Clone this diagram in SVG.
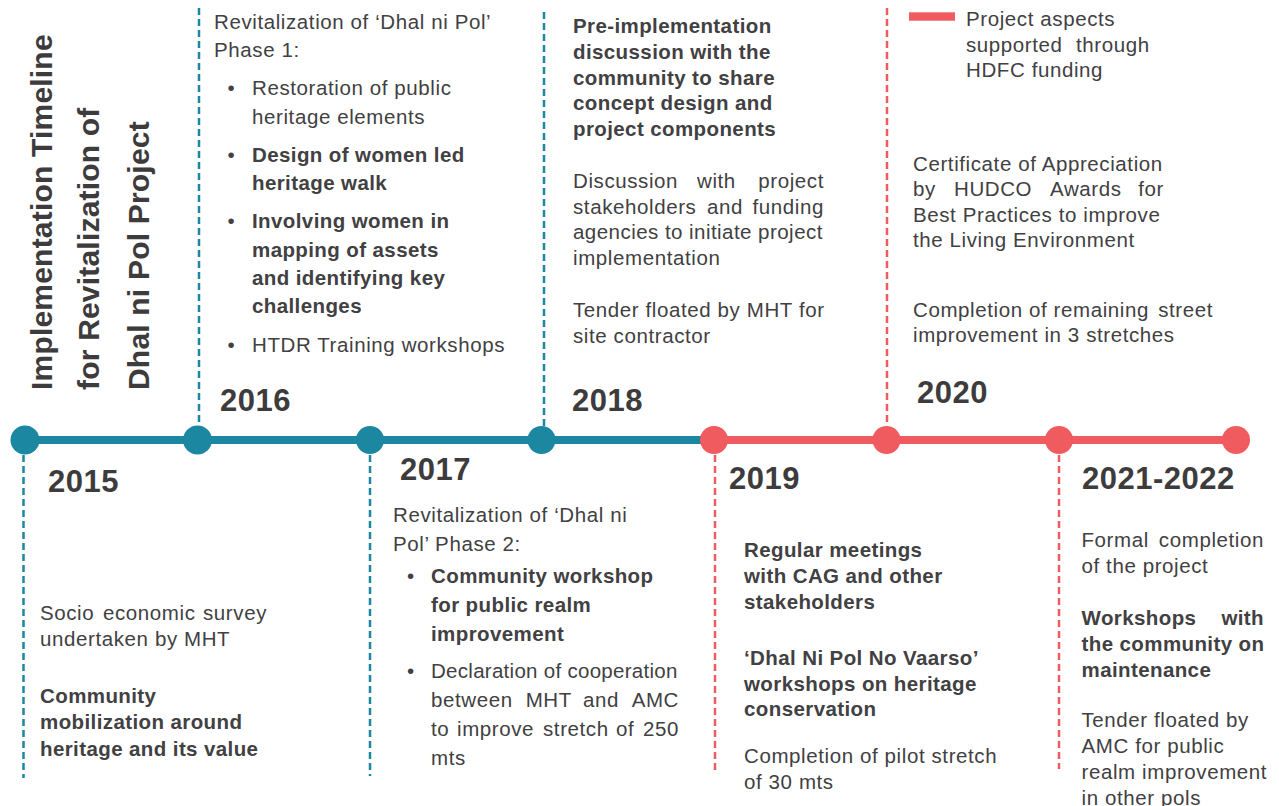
<svg xmlns="http://www.w3.org/2000/svg" width="1279" height="806" viewBox="0 0 1279 806">
<style>
.t{font-family:"Liberation Sans",Arial,Helvetica,sans-serif;font-size:20.5px;fill:#414042;letter-spacing:0.6px}
.b{font-weight:bold;letter-spacing:0.4px}
.e{text-anchor:end}
.yr{font-family:"Liberation Sans",Arial,Helvetica,sans-serif;font-size:31px;font-weight:bold;fill:#3d3b3c;letter-spacing:0.5px}
.ttl{font-family:"Liberation Sans",Arial,Helvetica,sans-serif;font-size:30px;font-weight:bold;fill:#3d3b3c;letter-spacing:0.2px}
.db{stroke:#1b87a1;stroke-width:2.5;stroke-dasharray:7 4;fill:none}
.dr{stroke:#f05b5f;stroke-width:2.5;stroke-dasharray:7 4;fill:none}
.blue{fill:#1b87a1}
.red{fill:#f05b5f}
</style>
<rect width="1279" height="806" fill="#ffffff"/>

<g id="title">
<text class="ttl" transform="translate(52,390) rotate(-90)">Implementation Timeline</text>
<text class="ttl" transform="translate(99,390) rotate(-90)">for Revitalization of</text>
<text class="ttl" transform="translate(149,390) rotate(-90)">Dhal ni Pol Project</text>
</g>

<g id="connectors">
<line x1="25" y1="440" x2="714" y2="440" stroke="#1b87a1" stroke-width="8"/>
<line x1="714" y1="440" x2="1237" y2="440" stroke="#f05b5f" stroke-width="8"/>
<line class="db" x1="23.5" y1="455" x2="23.5" y2="778"/>
<line class="db" x1="199" y1="8" x2="199" y2="426"/>
<line class="db" x1="370" y1="455" x2="370" y2="776"/>
<line class="db" x1="544" y1="12" x2="544" y2="426"/>
<line class="dr" x1="715" y1="455" x2="715" y2="771"/>
<line class="dr" x1="887" y1="8" x2="887" y2="426"/>
<line class="dr" x1="1059" y1="455" x2="1059" y2="769"/>
</g>

<g id="dots">
<circle class="blue" cx="25" cy="440" r="14.5"/>
<circle class="blue" cx="197.5" cy="440" r="14.5"/>
<circle class="blue" cx="370" cy="440" r="14"/>
<circle class="blue" cx="541.5" cy="440" r="14"/>
<circle class="red" cx="714" cy="440" r="14"/>
<circle class="red" cx="886.5" cy="440" r="14"/>
<circle class="red" cx="1059" cy="440" r="14"/>
<circle class="red" cx="1236" cy="440" r="14"/>
</g>

<g id="node-2015">
<text class="yr" x="48" y="492">2015</text>
<text class="t" y="620"><tspan x="40">Socio</tspan><tspan x="103">economic</tspan><tspan x="267" class="e">survey</tspan></text>
<text class="t" x="40" y="646">undertaken by MHT</text>
<text class="t b" x="40" y="703">Community</text>
<text class="t b" x="40" y="729">mobilization around</text>
<text class="t b" x="40" y="755.5">heritage and its value</text>
</g>

<g id="node-2016">
<text class="yr" x="220" y="411">2016</text>
<text class="t" x="214" y="28.5">Revitalization of ‘Dhal ni Pol’</text>
<text class="t" x="214" y="57">Phase 1:</text>
<text class="t" x="227.5" y="95">•</text>
<text class="t" x="252" y="95">Restoration of public</text>
<text class="t" x="252" y="123.5">heritage elements</text>
<text class="t" x="227.5" y="161.5">•</text>
<text class="t b" x="252" y="161.5">Design of women led</text>
<text class="t b" x="252" y="190">heritage walk</text>
<text class="t" x="227.5" y="228">•</text>
<text class="t b" x="252" y="228">Involving women in</text>
<text class="t b" x="252" y="256.5">mapping of assets</text>
<text class="t b" x="252" y="285">and identifying key</text>
<text class="t b" x="252" y="313">challenges</text>
<text class="t" x="227.5" y="351.5">•</text>
<text class="t" x="252" y="351.5">HTDR Training workshops</text>
</g>

<g id="node-2017">
<text class="yr" x="400" y="480">2017</text>
<text class="t" x="393" y="522">Revitalization of ‘Dhal ni</text>
<text class="t" x="393" y="550.5">Pol’ Phase 2:</text>
<text class="t" x="407" y="583">•</text>
<text class="t b" x="431" y="583">Community workshop</text>
<text class="t b" x="431" y="612">for public realm</text>
<text class="t b" x="431" y="640.5">improvement</text>
<text class="t" x="407" y="678">•</text>
<text class="t" x="431" y="678" textLength="247" lengthAdjust="spacing">Declaration of cooperation</text>
<text class="t" y="706.5"><tspan x="431">between</tspan><tspan x="525.7">MHT</tspan><tspan x="583">and</tspan><tspan x="679" class="e">AMC</tspan></text>
<text class="t" y="736"><tspan x="431">to</tspan><tspan x="457">improve</tspan><tspan x="543">stretch</tspan><tspan x="616">of</tspan><tspan x="679" class="e">250</tspan></text>
<text class="t" x="431" y="764.5">mts</text>
</g>

<g id="node-2018">
<text class="yr" x="572" y="411">2018</text>
<text class="t b" x="573" y="33">Pre-implementation</text>
<text class="t b" x="573" y="59">discussion with the</text>
<text class="t b" x="573" y="84.5">community to share</text>
<text class="t b" x="573" y="110">concept design and</text>
<text class="t b" x="573" y="135.5">project components</text>
<text class="t" y="188"><tspan x="573">Discussion</tspan><tspan x="697">with</tspan><tspan x="824" class="e">project</tspan></text>
<text class="t" y="213.5"><tspan x="573">stakeholders</tspan><tspan x="707">and</tspan><tspan x="824" class="e">funding</tspan></text>
<text class="t" x="573" y="239" textLength="250" lengthAdjust="spacing">agencies to initiate project</text>
<text class="t" x="573" y="264.5">implementation</text>
<text class="t" x="573" y="317">Tender floated by MHT for</text>
<text class="t" x="573" y="342.5">site contractor</text>
</g>

<g id="node-2019">
<text class="yr" x="729" y="489">2019</text>
<text class="t b" x="744" y="556.5">Regular meetings</text>
<text class="t b" x="744" y="583">with CAG and other</text>
<text class="t b" x="744" y="608.5">stakeholders</text>
<text class="t b" x="744" y="665">‘Dhal Ni Pol No Vaarso’</text>
<text class="t b" x="744" y="691">workshops on heritage</text>
<text class="t b" x="744" y="716">conservation</text>
<text class="t" x="744" y="763">Completion of pilot stretch</text>
<text class="t" x="744" y="789">of 30 mts</text>
</g>

<g id="node-2020">
<text class="yr" x="917" y="403">2020</text>
<rect class="red" x="909" y="12.3" width="46" height="8.4"/>
<text class="t" x="966" y="26">Project aspects</text>
<text class="t" y="51.5"><tspan x="966">supported</tspan><tspan x="1076">through</tspan></text>
<text class="t" x="966" y="77.3">HDFC funding</text>
<text class="t" x="913" y="170.5">Certificate of Appreciation</text>
<text class="t" y="196"><tspan x="913">by</tspan><tspan x="954">HUDCO</tspan><tspan x="1050">Awards</tspan><tspan x="1164" class="e">for</tspan></text>
<text class="t" x="913" y="221.5">Best Practices to improve</text>
<text class="t" x="913" y="247">the Living Environment</text>
<text class="t" y="316.5"><tspan x="913">Completion of remaining</tspan><tspan x="1213" class="e">street</tspan></text>
<text class="t" x="913" y="342">improvement in 3 stretches</text>
</g>

<g id="node-2021">
<text class="yr" x="1082" y="489">2021-2022</text>
<text class="t" y="547"><tspan x="1081.5">Formal</tspan><tspan x="1264" class="e">completion</tspan></text>
<text class="t" x="1081.5" y="573">of the project</text>
<text class="t b" y="625"><tspan x="1081.5">Workshops</tspan><tspan x="1264" class="e">with</tspan></text>
<text class="t b" x="1081.5" y="651">the community on</text>
<text class="t b" x="1081.5" y="677">maintenance</text>
<text class="t" x="1081.5" y="727">Tender floated by</text>
<text class="t" x="1081.5" y="753">AMC for public</text>
<text class="t" x="1081.5" y="778.5">realm improvement</text>
<text class="t" x="1081.5" y="805">in other pols</text>
</g>
</svg>
